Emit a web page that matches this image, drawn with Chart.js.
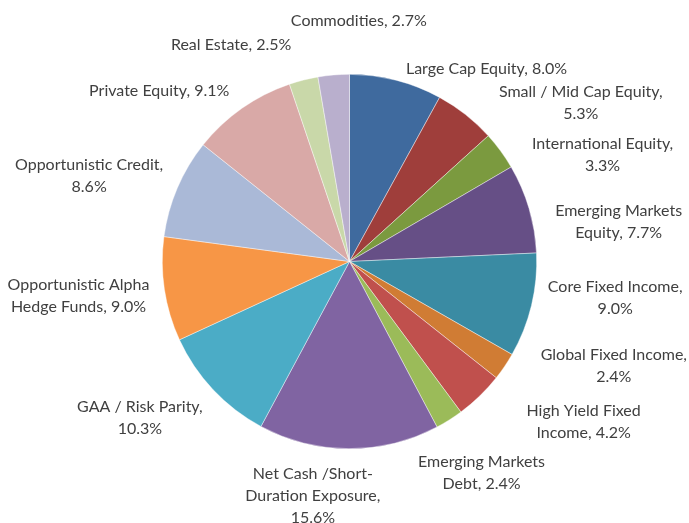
<!DOCTYPE html>
<html>
<head>
<meta charset="utf-8">
<script src="https://cdn.jsdelivr.net/npm/chart.js@4.4.0/dist/chart.umd.min.js"></script>
<style>
  html, body { margin: 0; padding: 0; background: #ffffff; }
  #wrap { width: 689px; height: 523px; position: relative; }
</style>
</head>
<body>
<div id="wrap"><canvas id="c" width="689" height="523"></canvas></div>
<script>
// ---- data ----
const categories = [
  "Large Cap Equity", "Small / Mid Cap Equity", "International Equity",
  "Emerging Markets Equity", "Core Fixed Income", "Global Fixed Income",
  "High Yield Fixed Income", "Emerging Markets Debt",
  "Net Cash /Short-Duration Exposure", "GAA / Risk Parity",
  "Opportunistic Alpha Hedge Funds", "Opportunistic Credit",
  "Private Equity", "Real Estate", "Commodities"
];
const values = [8.0, 5.3, 3.3, 7.7, 9.0, 2.4, 4.2, 2.4, 15.6, 10.3, 9.0, 8.6, 9.1, 2.5, 2.7];
const labelLines = [
  ["Large Cap Equity, 8.0%"],
  ["Small / Mid Cap Equity,", "5.3%"],
  ["International Equity,", "3.3%"],
  ["Emerging Markets", "Equity, 7.7%"],
  ["Core Fixed Income,", "9.0%"],
  ["Global Fixed Income,", "2.4%"],
  ["High Yield Fixed", "Income, 4.2%"],
  ["Emerging Markets", "Debt, 2.4%"],
  ["Net Cash /Short-", "Duration Exposure,", "15.6%"],
  ["GAA / Risk Parity,", "10.3%"],
  ["Opportunistic Alpha", "Hedge Funds, 9.0%"],
  ["Opportunistic Credit,", "8.6%"],
  ["Private Equity, 9.1%"],
  ["Real Estate, 2.5%"],
  ["Commodities, 2.7%"]
];

// ---- styling ----
const colors = [
  "#3F6A9E", "#9F3E3B", "#7B9A3F", "#664F86", "#3A8BA3",
  "#D07C34", "#C0504D", "#9BBB59", "#8064A2", "#4BACC6",
  "#F79646", "#AAB9D7", "#D9A9A7", "#C9D8A9", "#B9AFCD"
];
// label block offset from the slice anchor point (radius + 10)
const labelNudge = [
  [88, -2], [109, -4], [94, 10], [80, 16], [74, -10],
  [101, -6], [97, 19], [27, 44], [-36, 37], [-66, 21],
  [-76, 5], [-79, -8], [-77, -9], [-70, -25], [26, -44]
];
const FONT = '16px Lato, "Open Sans", sans-serif';
const LINE_H = 22;

const labelPlugin = {
  id: 'sliceLabels',
  afterDatasetsDraw(chart) {
    const ctx = chart.ctx;
    const meta = chart.getDatasetMeta(0);
    ctx.save();
    ctx.font = FONT;
    ctx.fillStyle = '#404040';
    ctx.textAlign = 'center';
    ctx.textBaseline = 'middle';
    meta.data.forEach((arc, i) => {
      const p = arc.getProps(['x', 'y', 'startAngle', 'endAngle', 'outerRadius'], true);
      const mid = (p.startAngle + p.endAngle) / 2;
      const r = p.outerRadius + 10;
      const ax = p.x + r * Math.cos(mid) + labelNudge[i][0];
      const ay = p.y + r * Math.sin(mid) + labelNudge[i][1];
      const lines = labelLines[i];
      const top = ay - (lines.length - 1) * LINE_H / 2;
      lines.forEach((ln, k) => ctx.fillText(ln, ax, top + k * LINE_H));
    });
    ctx.restore();
  }
};

new Chart(document.getElementById('c'), {
  type: 'pie',
  data: {
    labels: categories,
    datasets: [{
      data: values,
      backgroundColor: colors,
      borderColor: 'rgba(255,255,255,0.7)',
      borderWidth: 0.6
    }]
  },
  options: {
    responsive: false,
    animation: false,
    layout: { padding: { top: 74, bottom: 74, left: 162, right: 152 } },
    plugins: {
      legend: { display: false },
      tooltip: { enabled: false }
    }
  },
  plugins: [labelPlugin]
});
</script>
</body>
</html>
